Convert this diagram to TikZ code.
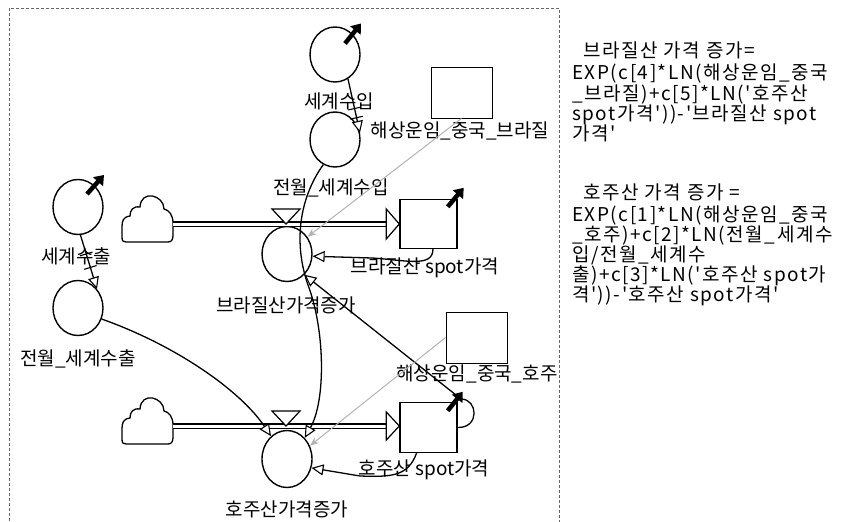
\documentclass[tikz,border=0pt]{standalone}
\usepackage{fontspec}
\setmainfont{Noto Sans CJK KR}[Ligatures=TeXOff]
\newfontfamily\eqfont{Noto Sans CJK KR}[Ligatures=TeXOff, LetterSpace=8]
\usetikzlibrary{arrows.meta,shapes.geometric,calc}
\begin{document}
\begin{tikzpicture}[x=1pt,y=-1pt,
  font=\fontsize{19}{21}\selectfont,
  aux/.style={ellipse, draw, line width=1.4pt, inner sep=0pt, minimum width=50pt, minimum height=55pt},
  stockbox/.style={rectangle, draw, line width=1.4pt, inner sep=0pt, minimum width=57pt, minimum height=49pt},
  constbox/.style={rectangle, draw, line width=0.9pt, inner sep=0pt, minimum width=61pt, minimum height=51pt},
  lbl/.style={inner sep=0pt},
  eqline/.style={inner sep=0pt, anchor=base west, font=\eqfont\fontsize{19}{21}\selectfont},
  infolink/.style={line width=1.3pt, -{Triangle[length=12pt,width=11pt,fill=white,line width=1.1pt]}},
  graylink/.style={draw=gray!60, line width=1pt, -{Stealth[length=9pt,width=7pt,fill=gray!60]}},
  outarrow/.style={line width=4.5pt, -{Triangle[length=9pt,width=13pt]}},
  pipe/.style={double, line width=1.6pt, double distance=3pt},
  flowhead/.style={draw, fill=white, line width=1.2pt, line join=miter},
  valvetri/.style={draw, fill=white, line width=1.2pt},
  hashmark/.style={draw, line width=1.1pt, rectangle, minimum width=0pt, minimum height=13pt, inner sep=0pt, sloped},
  cloudshape/.style={draw, fill=white, line width=1.3pt}
]
\useasboundingbox (0,0) rectangle (844,522);
% dashed frame
\draw[line width=0.8pt, dash pattern=on 3pt off 2pt, gray!80!black] (9,8) rectangle (559.5,540);

% auxiliaries
\node[aux] (sw)  at (335,54.5) {};
\node[aux] (psw) at (335,139.5) {};
\node[aux] (se)  at (78,207) {};
\node[aux] (pse) at (78,308) {};
\node[aux] (bz)  at (287,254) {};
\node[aux, minimum height=57pt] (au)  at (287,459) {};
% stocks and constants
\node[stockbox] (bzs) at (428.5,224) {};
\node[stockbox, minimum height=50pt] (aus) at (428.5,427.5) {};
\node[constbox] (fbz) at (461.5,92.5) {};
\node[constbox] (fau) at (476.5,337.5) {};

% labels
\node[lbl] (lsw)  at (339,101) {세계수입};
\node[lbl] (lpsw) at (331,188) {전월\_세계수입};
\node[lbl] (lse)  at (76,256) {세계수출};
\node[lbl] (lpse) at (78,359) {전월\_세계수출};
\node[lbl] (lbz)  at (286,305) {브라질산가격증가};
\node[lbl] (lau)  at (287,509) {호주산가격증가};
\node[lbl] (lbzs) at (425,268) {브라질산 spot가격};
\node[lbl] (laus) at (424,470) {호주산 spot가격};
\node[lbl] (lfbz) at (460,131) {해상운임\_중국\_브라질};
\node[lbl] (lfau) at (477,374) {해상운임\_중국\_호주};

% clouds
\coordinate (c1) at (173,224);
\coordinate (c2) at (173,426);
\foreach \dy in {0,202}{
  \begin{scope}[shift={(147,220+\dy)}]
  \draw[cloudshape] (-21,22) -- (21,22)
    .. controls (25,22) and (26,19) .. (26,15) -- (26,3)
    .. controls (26,-5) and (22,-10) .. (17,-11)
    .. controls (17,-25) and (-6,-31) .. (-7,-13)
    .. controls (-14,-14) and (-17,-10) .. (-17,-4)
    .. controls (-24,-3) and (-25,1) .. (-25,7) -- (-25,17)
    .. controls (-25,21) and (-24,22) .. (-21,22) -- cycle;
  \end{scope}
}

% flows (pipes)
\draw[pipe] (c1) -- ($(c1 -| bzs.west)+(-13,0)$);
\draw[flowhead] ($(c1 -| bzs.west)+(-13,-15)$) -- (c1 -| bzs.west) -- ($(c1 -| bzs.west)+(-13,15)$) -- cycle;
\draw[pipe] (c2) -- ($(c2 -| aus.west)+(-13,0)$);
\draw[flowhead] ($(c2 -| aus.west)+(-13,-14)$) -- (c2 -| aus.west) -- ($(c2 -| aus.west)+(-13,14)$) -- cycle;
% valves
\coordinate (v1) at (286,224);
\coordinate (v2) at (286,426);
\draw[valvetri] (v1) -- ++(-14,-15) -- ++(28,0) -- cycle;
\draw[valvetri] (v2) -- ++(-14,-15) -- ++(28,0) -- cycle;

% outflow arrows
\draw[outarrow] ($(sw)+(10,-11)$) -- ($(sw)+(26,-31)$);
\draw[outarrow] ($(se)+(9,-13)$) -- ($(se)+(26,-32)$);
\draw[outarrow] ($(bzs.north east)+(-10,8)$) -- ($(bzs.north east)+(6,-11)$);
\draw[outarrow] ($(aus.north east)+(-10,9)$) -- ($(aus.north east)+(5,-10)$);

% delayed links
\draw[infolink] (sw.-62) -- node[hashmark, pos=0.55] (h1) {} node[hashmark, pos=0.72] (h2) {} (psw.15);
\draw[infolink] (se.-85) -- node[hashmark, pos=0.35] (h3) {} node[hashmark, pos=0.6] (h4) {} (pse.45);

% information links
\draw[infolink] (psw.-115) .. controls (298,200) and (294,245) .. (308,285)
   .. controls (325,330) and (326,400) .. (au.50);
\draw[infolink] (pse.-25) .. controls (175,345) and (240,390) .. (au.125);
\draw[infolink] (aus.east) .. controls (480,428) and (478,399) .. (461,399) -- (bz.-50);
\draw[infolink] (bzs.-80) .. controls (433,268) and (405,260) .. (372,258) -- (bz.-5);
\draw[infolink] (aus.-115) .. controls (408,477) and (390,477) .. (360,476) -- (au.-20);
\draw[graylink] (fbz.south) -- (bz.40);
\draw[graylink] (fau.west) -- (au.30);

% equations
\node[eqline] (e1) at (572,57) {\ \ 브라질산 가격 증가=};
\node[eqline] (e2) at (572,79) {EXP(c[4]*LN(해상운임\_중국};
\node[eqline] (e3) at (572,100) {\_브라질)+c[5]*LN('호주산};
\node[eqline] (e4) at (572,120) {spot가격'))-'브라질산 spot};
\node[eqline] (e5) at (572,140) {가격'};
\node[eqline] (f1) at (572,199) {\ \ 호주산 가격 증가 =};
\node[eqline] (f2) at (572,221) {EXP(c[1]*LN(해상운임\_중국};
\node[eqline] (f3) at (572,241.5) {\_호주)+c[2]*LN(전월\_세계수};
\node[eqline] (f4) at (572,261.5) {입/전월\_세계수};
\node[eqline] (f5) at (572,281.5) {출)+c[3]*LN('호주산 spot가};
\node[eqline] (f6) at (572,301.5) {격'))-'호주산 spot가격'};
\end{tikzpicture}
\end{document}
